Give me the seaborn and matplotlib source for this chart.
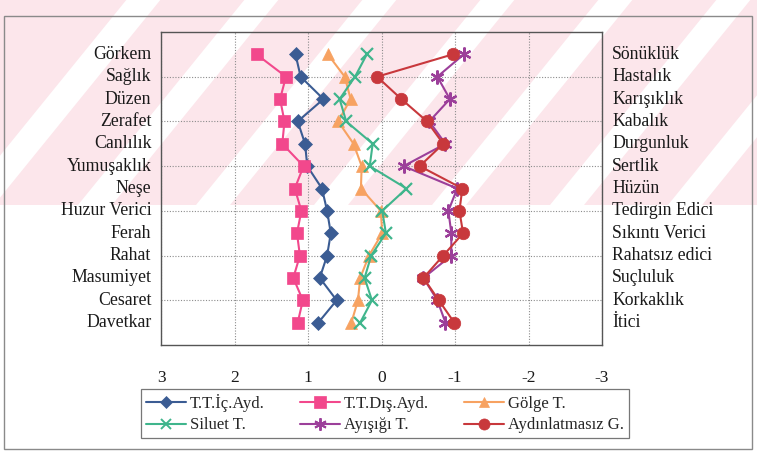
import matplotlib
matplotlib.use("Agg")
import matplotlib.pyplot as plt
import seaborn as sns
import pandas as pd
from matplotlib.lines import Line2D
from matplotlib.patches import Rectangle, Polygon

# Semantic differential scale: positive adjective (left) vs negative (right)
positive_terms = ["Görkem", "Sağlık", "Düzen", "Zerafet", "Canlılık", "Yumuşaklık", "Neşe",
                  "Huzur Verici", "Ferah", "Rahat", "Masumiyet", "Cesaret", "Davetkar"]
negative_terms = ["Sönüklük", "Hastalık", "Karışıklık", "Kabalık", "Durgunluk", "Sertlik", "Hüzün",
                  "Tedirgin Edici", "Sıkıntı Verici", "Rahatsız edici", "Suçluluk", "Korkaklık", "İtici"]

series_names = ["T.T.İç.Ayd.", "T.T.Dış.Ayd.", "Gölge T.", "Siluet T.", "Ayışığı T.", "Aydınlatmasız G."]

ic_ayd = [1.17, 1.10, 0.79, 1.14, 1.04, 1.01, 0.81, 0.74, 0.69, 0.74, 0.84, 0.61, 0.86]
dis_ayd = [1.70, 1.30, 1.38, 1.32, 1.35, 1.06, 1.18, 1.09, 1.15, 1.11, 1.20, 1.07, 1.14]
golge = [0.73, 0.50, 0.42, 0.59, 0.38, 0.27, 0.28, 0.01, -0.01, 0.17, 0.29, 0.32, 0.41]
siluet = [0.20, 0.36, 0.57, 0.48, 0.12, 0.16, -0.34, -0.01, -0.06, 0.14, 0.23, 0.13, 0.29]
ayisigi = [-1.12, -0.76, -0.93, -0.65, -0.87, -0.30, -1.03, -0.91, -0.95, -0.95, -0.57, -0.76, -0.87]
aydinlatmasiz = [-0.97, 0.06, -0.27, -0.62, -0.84, -0.52, -1.10, -1.06, -1.11, -0.84, -0.57, -0.78, -0.99]

x_ticks = [3, 2, 1, 0, -1, -2, -3]

all_values = [ic_ayd, dis_ayd, golge, siluet, ayisigi, aydinlatmasiz]
colors = ["#3b5c93", "#f2488c", "#f7a261", "#3fb58c", "#9c3f9a", "#c8383c"]
markers = ["D", "s", "^", "x", (6, 2, 0), "o"]
msizes = [7, 9, 8, 8, 10, 9]

rows = list(range(1, len(positive_terms) + 1))
frames = []
for name, vals in zip(series_names, all_values):
    frames.append(pd.DataFrame({"seri": name, "puan": vals, "sira": rows}))
df = pd.concat(frames, ignore_index=True)

sns.set_style("white")
plt.rcParams["font.family"] = ["Liberation Serif", "DejaVu Serif"]

W, H = 757, 455
fig = plt.figure(figsize=(W / 100, H / 100), dpi=100)
fig.patch.set_facecolor("white")

# faint diagonal watermark band across the upper part of the page
bg = fig.add_axes([0, 0, 1, 1], zorder=-5)
bg.set_xlim(0, W)
bg.set_ylim(H, 0)
bg.axis("off")
band_bottom = 205
bg.add_patch(Rectangle((0, 0), W, band_bottom, facecolor="#fce6eb", edgecolor="none"))
dx_per_dy = 73 / 90
for x_at_bottom in range(-40, 1000, 118):
    x0 = x_at_bottom
    x1 = x_at_bottom + 34
    top_shift = dx_per_dy * band_bottom
    bg.add_patch(Polygon([(x0, band_bottom), (x1, band_bottom),
                          (x1 + top_shift, 0), (x0 + top_shift, 0)],
                         closed=True, facecolor="white", edgecolor="none"))

# outer chart frame
fig.patches.append(Rectangle((4 / W, 1 - 449 / H), 748 / W, 433 / H,
                             transform=fig.transFigure, fill=False,
                             edgecolor="#8a8a8a", linewidth=1.0, zorder=0))

ax = fig.add_axes([161 / W, 1 - 345 / H, 441 / W, 313 / H])
ax.set_facecolor("none")

for name, col, mk, ms in zip(series_names, colors, markers, msizes):
    sub = df[df["seri"] == name]
    sns.lineplot(data=sub, x="puan", y="sira", orient="y", sort=False, ax=ax,
                 color=col, marker=mk, markersize=ms, linewidth=1.5,
                 markeredgecolor=col, markeredgewidth=1.6 if mk in ("x", (6, 2, 0)) else 0.5,
                 legend=False)

ax.set_xlim(3, -3)
ax.set_ylim(14, 0)
ax.set_xticks(x_ticks)
ax.set_xticklabels([str(t) for t in x_ticks], fontsize=12.5, color="#1a1a1a")
ax.set_yticks([2, 4, 6, 8, 10, 12])
ax.set_yticklabels([])
ax.tick_params(axis="x", direction="out", length=5, width=0.8, color="#444444", pad=13)
ax.tick_params(axis="y", length=0)
ax.set_xlabel("")
ax.set_ylabel("")
ax.grid(True, linestyle=(0, (1, 1.5)), color="#8c8c8c", linewidth=0.8)
for sp in ax.spines.values():
    sp.set_color("#555555")
    sp.set_linewidth(1.0)
    sp.set_visible(True)

for i, (lt, rt) in enumerate(zip(positive_terms, negative_terms)):
    ax.text(-0.022, rows[i], lt, transform=ax.get_yaxis_transform(), ha="right", va="center",
            fontsize=12.8, color="#1a1a1a")
    ax.text(1.023, rows[i], rt, transform=ax.get_yaxis_transform(), ha="left", va="center",
            fontsize=12.8, color="#1a1a1a")

handles = []
for name, col, mk, ms in zip(series_names, colors, markers, msizes):
    handles.append(Line2D([], [], color=col, marker=mk, markersize=ms - 1, linewidth=1.5,
                          markeredgecolor=col, markeredgewidth=1.4 if mk in ("x", (6, 2, 0)) else 0.5,
                          label=name))
order = [0, 3, 1, 4, 2, 5]
leg = fig.legend([handles[i] for i in order], [series_names[i] for i in order],
                 loc="center", ncol=3, mode="expand",
                 bbox_to_anchor=(133 / W, 1 - 442 / H, 504 / W, 57 / H),
                 fontsize=12, frameon=True, fancybox=False, handlelength=2.4,
                 handletextpad=0.2, labelspacing=0.35, borderpad=0.3, columnspacing=1.0)
leg.get_frame().set_edgecolor("#555555")
leg.get_frame().set_linewidth(0.9)

fig.savefig("out.png", dpi=100)
